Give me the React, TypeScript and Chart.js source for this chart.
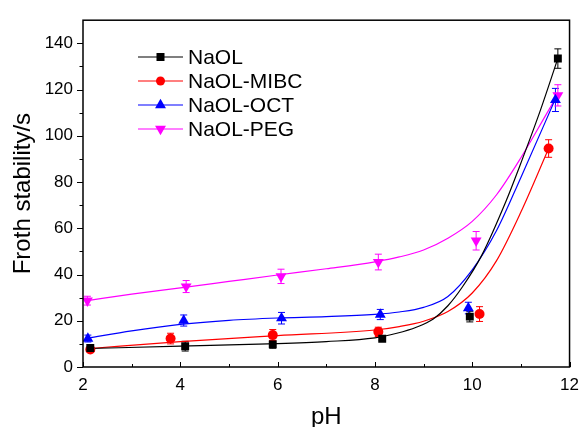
import React, { useEffect, useRef } from "react";
import { Chart, registerables } from "chart.js";

Chart.register(...registerables);

// ---------- data ----------
const seriesNames = ["NaOL", "NaOL-MIBC", "NaOL-OCT", "NaOL-PEG"];
const seriesColors = ["#000000", "#ff0000", "#0000ff", "#ff00ff"];
const seriesMarkers = ["rect", "circle", "triangle", "triangleDown"];

const naolX = [2.15, 4.1, 5.9, 8.15, 9.95, 11.76];
const naolY = [8.2, 9.0, 9.8, 12.2, 21.8, 133.4];
const naolErr = [1.5, 2.1, 1.7, 0.8, 2.3, 4.2];

const mibcX = [2.15, 3.8, 5.9, 8.07, 10.15, 11.57];
const mibcY = [7.6, 12.3, 13.8, 15.2, 22.9, 94.5];
const mibcErr = [1.0, 2.3, 2.4, 2.0, 3.2, 3.8];

const octX = [2.1, 4.07, 6.08, 8.11, 9.92, 11.71];
const octY = [12.3, 20.1, 21.1, 22.7, 25.5, 115.5];
const octErr = [1.5, 2.4, 2.5, 2.2, 2.5, 5.0];

const pegX = [2.09, 4.12, 6.07, 8.07, 10.08, 11.76];
const pegY = [28.7, 34.8, 39.2, 45.4, 54.6, 117.5];
const pegErr = [1.9, 2.6, 3.1, 3.4, 4.0, 4.6];

// fitted curves
const naolFitX = [2.1, 4, 6, 7, 8, 8.45, 8.85, 9.2, 9.5, 9.8, 10.2, 10.7, 10.96, 11.4, 11.76];
const naolFitY = [8, 9, 10.1, 11, 12.6, 14.6, 17.2, 20.8, 26.5, 34.7, 48.5, 72, 86, 111, 133.5];

const mibcFitX = [2.15, 4, 6, 8, 8.5, 9, 9.5, 10, 10.5, 11, 11.57];
const mibcFitY = [8, 11, 13.6, 16, 17.5, 19.8, 24, 32, 46, 67, 94.5];

const octFitX = [2.1, 3, 4, 5, 6, 7, 8, 8.5, 9, 9.5, 10, 10.5, 11, 11.71];
const octFitY = [12.5, 15.6, 18.4, 20.2, 21.2, 21.8, 22.8, 23.8, 25.8, 30.5, 42, 59, 82, 116];

const pegFitX = [2.09, 3, 4, 5, 6, 7, 8, 8.5, 9, 9.5, 10, 10.5, 11, 11.5, 11.76];
const pegFitY = [28.7, 31.5, 34.2, 37, 39.8, 42.5, 45.5, 47.6, 50.6, 55.7, 63, 74.5, 90.5, 108.5, 118];

const xTicks = [2, 4, 6, 8, 10, 12];
const xMinorTicks = [3, 5, 7, 9, 11];
const yTicks = [0, 20, 40, 60, 80, 100, 120, 140];
const yMinorTicks = [10, 30, 50, 70, 90, 110, 130];

const xTitle = "pH";
const yTitle = "Froth stability/s";

const pointXs = [naolX, mibcX, octX, pegX];
const pointYs = [naolY, mibcY, octY, pegY];
const pointErrs = [naolErr, mibcErr, octErr, pegErr];
const fitXs = [naolFitX, mibcFitX, octFitX, pegFitX];
const fitYs = [naolFitY, mibcFitY, octFitY, pegFitY];

const FONT = "'Liberation Sans', Arial, sans-serif";

function drawMarker(ctx: CanvasRenderingContext2D, kind: string, x: number, y: number, color: string) {
  ctx.save();
  ctx.fillStyle = color;
  ctx.beginPath();
  if (kind === "rect") {
    const s = 4;
    ctx.rect(x - s, y - s, 2 * s, 2 * s);
  } else if (kind === "circle") {
    ctx.arc(x, y, 4.5, 0, Math.PI * 2);
  } else if (kind === "triangle") {
    const r = 6.3;
    ctx.moveTo(x, y - r);
    ctx.lineTo(x + r * 0.866, y + r / 2);
    ctx.lineTo(x - r * 0.866, y + r / 2);
    ctx.closePath();
  } else {
    const r = 6.3;
    ctx.moveTo(x, y + r);
    ctx.lineTo(x + r * 0.866, y - r / 2);
    ctx.lineTo(x - r * 0.866, y - r / 2);
    ctx.closePath();
  }
  ctx.fill();
  ctx.restore();
}

const decorPlugin = {
  id: "decor",
  beforeDatasetsDraw(chart: any) {
    const { ctx, scales } = chart;
    const xs = scales.x;
    const ys = scales.y;
    ctx.save();
    ctx.lineWidth = 1;
    for (let s = 0; s < pointXs.length; s++) {
      ctx.strokeStyle = seriesColors[s];
      for (let i = 0; i < pointXs[s].length; i++) {
        const px = xs.getPixelForValue(pointXs[s][i]);
        const top = ys.getPixelForValue(pointYs[s][i] + pointErrs[s][i]);
        const bot = ys.getPixelForValue(pointYs[s][i] - pointErrs[s][i]);
        ctx.beginPath();
        ctx.moveTo(px, top);
        ctx.lineTo(px, bot);
        ctx.moveTo(px - 3.5, top);
        ctx.lineTo(px + 3.5, top);
        ctx.moveTo(px - 3.5, bot);
        ctx.lineTo(px + 3.5, bot);
        ctx.stroke();
      }
    }
    ctx.restore();
  },
  afterDraw(chart: any) {
    const { ctx, chartArea, scales } = chart;
    const { left, right, top, bottom } = chartArea;
    const xs = scales.x;
    const ys = scales.y;
    ctx.save();
    // frame
    ctx.strokeStyle = "#000";
    ctx.lineWidth = 1.5;
    ctx.strokeRect(left, top, right - left, bottom - top);
    // ticks
    ctx.lineWidth = 1;
    ctx.beginPath();
    for (const v of xTicks) {
      const p = Math.round(xs.getPixelForValue(v)) + 0.5;
      ctx.moveTo(p, bottom);
      ctx.lineTo(p, bottom - 5);
    }
    for (const v of xMinorTicks) {
      const p = Math.round(xs.getPixelForValue(v)) + 0.5;
      ctx.moveTo(p, bottom);
      ctx.lineTo(p, bottom - 3);
    }
    for (const v of yTicks) {
      const p = Math.round(ys.getPixelForValue(v)) + 0.5;
      ctx.moveTo(left, p);
      ctx.lineTo(left - 6, p);
    }
    for (const v of yMinorTicks) {
      const p = Math.round(ys.getPixelForValue(v)) + 0.5;
      ctx.moveTo(left, p);
      ctx.lineTo(left - 3.5, p);
    }
    ctx.stroke();

    // legend
    const lx0 = 138;
    const lx1 = 183;
    const ly0 = 57;
    const step = 24;
    ctx.font = `21px ${FONT}`;
    ctx.textBaseline = "alphabetic";
    ctx.textAlign = "left";
    for (let i = 0; i < seriesNames.length; i++) {
      const y = ly0 + i * step;
      ctx.strokeStyle = seriesColors[i];
      ctx.lineWidth = 1.2;
      ctx.beginPath();
      ctx.moveTo(lx0, y);
      ctx.lineTo(lx1, y);
      ctx.stroke();
      drawMarker(ctx, seriesMarkers[i], (lx0 + lx1) / 2, y, seriesColors[i]);
      ctx.fillStyle = "#000";
      ctx.fillText(seriesNames[i], 188, y + 7);
    }
    ctx.restore();
  },
};

export default function App() {
  const ref = useRef<HTMLCanvasElement | null>(null);

  useEffect(() => {
    document.body.style.margin = "0";
    const canvas = ref.current;
    if (!canvas) return;

    const pointDatasets = pointXs.map((xsArr, s) => ({
      type: "line" as const,
      label: seriesNames[s],
      data: xsArr.map((x, i) => ({ x, y: pointYs[s][i] })),
      showLine: false,
      pointStyle: s === 0 ? "rect" : s === 1 ? "circle" : "triangle",
      pointRotation: s === 3 ? 180 : 0,
      pointRadius: s === 0 ? 5.6 : s === 1 ? 5 : 6.3,
      pointBackgroundColor: seriesColors[s],
      pointBorderColor: seriesColors[s],
      pointBorderWidth: 0,
      borderColor: seriesColors[s],
      backgroundColor: seriesColors[s],
    }));

    const fitDatasets = fitXs.map((xsArr, s) => ({
      type: "line" as const,
      label: seriesNames[s] + " fit",
      data: xsArr.map((x, i) => ({ x, y: fitYs[s][i] })),
      borderColor: seriesColors[s],
      borderWidth: 1.2,
      pointRadius: 0,
      fill: false,
      cubicInterpolationMode: "monotone" as const,
    }));

    const chart = new Chart(canvas, {
      type: "line",
      data: { datasets: [...pointDatasets, ...fitDatasets] as any },
      options: {
        responsive: false,
        animation: false,
        layout: { padding: { left: 0, top: 7, right: 12, bottom: 0 } },
        plugins: { legend: { display: false }, tooltip: { enabled: false } },
        scales: {
          x: {
            type: "linear",
            min: 2,
            max: 12,
            afterBuildTicks: (s: any) => {
              s.ticks = xTicks.map((v) => ({ value: v }));
            },
            afterFit: (s: any) => {
              s.height = 60;
            },
            grid: { display: false, drawTicks: false, tickLength: 0 },
            border: { display: false },
            ticks: {
              padding: 8,
              color: "#000",
              autoSkip: false,
              maxRotation: 0,
              font: { family: FONT, size: 17 },
            },
            title: {
              display: true,
              text: xTitle,
              color: "#000",
              font: { family: FONT, size: 24, lineHeight: 1 },
              padding: { top: 0, bottom: -2 },
            },
          },
          y: {
            type: "linear",
            min: 0,
            max: 150,
            afterBuildTicks: (s: any) => {
              s.ticks = yTicks.map((v) => ({ value: v }));
            },
            afterFit: (s: any) => {
              s.width = 83;
            },
            grid: { display: false, drawTicks: false, tickLength: 0 },
            border: { display: false },
            ticks: {
              padding: 10,
              color: "#000",
              autoSkip: false,
              font: { family: FONT, size: 17 },
            },
            title: {
              display: true,
              text: yTitle,
              color: "#000",
              font: { family: FONT, size: 24, lineHeight: 1 },
              padding: { top: 11, bottom: 0 },
            },
          },
        },
      },
      plugins: [decorPlugin],
    });

    return () => chart.destroy();
  }, []);

  return (
    <div style={{ position: "relative", width: 587, height: 427, background: "#fff" }}>
      <canvas ref={ref} width={587} height={427} style={{ display: "block" }} />
    </div>
  );
}
